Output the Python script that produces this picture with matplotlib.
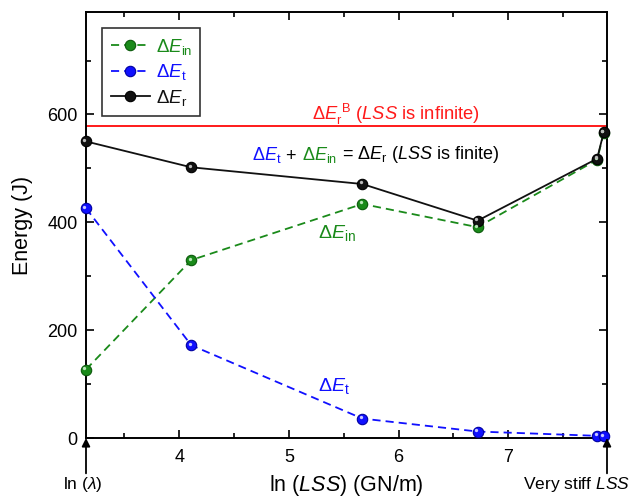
import matplotlib
matplotlib.use("Agg")
import matplotlib.pyplot as plt
from matplotlib import transforms
from matplotlib.ticker import MultipleLocator

plt.rcParams['font.family'] = ['Liberation Sans', 'DejaVu Sans']
plt.rcParams['mathtext.fontset'] = 'custom'
plt.rcParams['mathtext.rm'] = 'Liberation Sans'
plt.rcParams['mathtext.it'] = 'Liberation Sans:italic'
plt.rcParams['mathtext.bf'] = 'Liberation Sans:bold'

# Data
ln_lss = [3.15, 4.11, 5.67, 6.72, 7.81, 7.87]
dE_in = [127, 330, 434, 391, 516, 566]
dE_t = [426, 172, 36, 12, 4, 3]
dE_r = [550, 502, 471, 403, 518, 567]
dE_r_B = 578

xlim = (3.15, 7.90)
ylim = (0, 790)

fig = plt.figure(figsize=(6.3, 4.98), dpi=100)
ax = fig.add_axes([86/630, 60/498, (607-86)/630, (438-12)/498])

def sphere(x, y, color, edge, hl, ls, label):
    kw = dict(dashes=(4.5, 2.8)) if ls == '--' else {}
    ax.plot(x, y, ls, color=color, lw=1.3, marker='o', ms=7.5,
            mfc=color, mec=edge, mew=0.8, label=label, clip_on=False, zorder=3, **kw)
    off = transforms.offset_copy(ax.transData, fig=fig, x=-1.1, y=1.1, units='points')
    ax.plot(x, y, ls='none', marker='o', ms=2.4, mfc=hl, mec='none',
            transform=off, clip_on=False, zorder=4)

green = '#1a8a1a'
blue = '#1010ff'
sphere(ln_lss, dE_in, green, '#0b5a0b', '#b8e6b8', '--', r'$\Delta\mathit{E}_\mathrm{in}$')
sphere(ln_lss, dE_t, blue, '#0000a0', '#c8c8ff', '--', r'$\Delta\mathit{E}_\mathrm{t}$')
sphere(ln_lss, dE_r, '#111111', '#000000', '#bbbbbb', '-', r'$\Delta\mathit{E}_\mathrm{r}$')

ax.axhline(dE_r_B, color='#ff1a1a', lw=1.4, zorder=2)

ax.set_xlim(*xlim)
ax.set_ylim(*ylim)
ax.xaxis.set_major_locator(MultipleLocator(1))
ax.xaxis.set_minor_locator(MultipleLocator(0.5))
ax.yaxis.set_major_locator(MultipleLocator(200))
ax.yaxis.set_minor_locator(MultipleLocator(100))
ax.tick_params(which='both', direction='in', top=True, right=True, labelsize=13, width=1.2)
ax.tick_params(which='major', length=6)
ax.tick_params(which='minor', length=3.5)
ax.tick_params(axis='x', which='major', pad=8)
ax.tick_params(axis='y', which='major', pad=6)
for s in ax.spines.values():
    s.set_linewidth(1.4)

ax.set_xticks([4, 5, 6, 7])
ax.set_ylabel('Energy (J)', fontsize=15.5, labelpad=10)
ax.set_xlabel(r'ln ($\mathit{LSS}$) (GN/m)', fontsize=15.5, labelpad=5)

# legend
leg = ax.legend(loc='upper left', bbox_to_anchor=(0.031, 0.962), fontsize=13.5,
                frameon=True, fancybox=False, edgecolor='black', handlelength=2.1,
                borderpad=0.45, labelspacing=0.3, handletextpad=0.3, borderaxespad=0)
leg.get_frame().set_linewidth(1.2)
for txt, c in zip(leg.get_texts(), [green, blue, '#111111']):
    txt.set_color(c)

# annotations
ax.text(5.976, 589, r'$\Delta\mathit{E}_\mathrm{r}^{\ \mathrm{B}}$ ($\mathit{LSS}$ is infinite)',
        color='#ff1a1a', fontsize=13.2, ha='center', va='baseline')

fs = 13
t1 = ax.text(4.66, 515, r'$\Delta\mathit{E}_\mathrm{t}$', color=blue, fontsize=fs, va='baseline')
t2 = ax.annotate(' + ', xy=(1, 0), xycoords=t1, fontsize=fs, color='black', va='bottom')
t3 = ax.annotate(r'$\Delta\mathit{E}_\mathrm{in}$', xy=(1, 0), xycoords=t2, fontsize=fs, color=green, va='bottom')
t4 = ax.annotate(r' = $\Delta\mathit{E}_\mathrm{r}$ ($\mathit{LSS}$ is finite)', xy=(1, 0), xycoords=t3,
                 fontsize=fs, color='black', va='bottom')

ax.text(5.265, 370, r'$\Delta\mathit{E}_\mathrm{in}$', color=green, fontsize=14, va='baseline')
ax.text(5.265, 87, r'$\Delta\mathit{E}_\mathrm{t}$', color=blue, fontsize=14, va='baseline')

# arrows below axis
for xv in xlim:
    ax.annotate('', xy=(xv, 0), xycoords='data', xytext=(xv, -0.083), textcoords=('data', 'axes fraction'),
                arrowprops=dict(arrowstyle='-|>', color='black', lw=1.3, mutation_scale=12, shrinkA=0, shrinkB=0),
                annotation_clip=False)

bt = transforms.blended_transform_factory(ax.transData, ax.transAxes)
ax.text(xlim[0] - 0.03, -0.087, r'ln ($\lambda$)', transform=bt, ha='center', va='top', fontsize=12.5)
ax.text(xlim[1] - 0.28, -0.087, r'Very stiff $\mathit{LSS}$', transform=bt, ha='center', va='top', fontsize=12.5)

fig.savefig('out.png', dpi=100)
